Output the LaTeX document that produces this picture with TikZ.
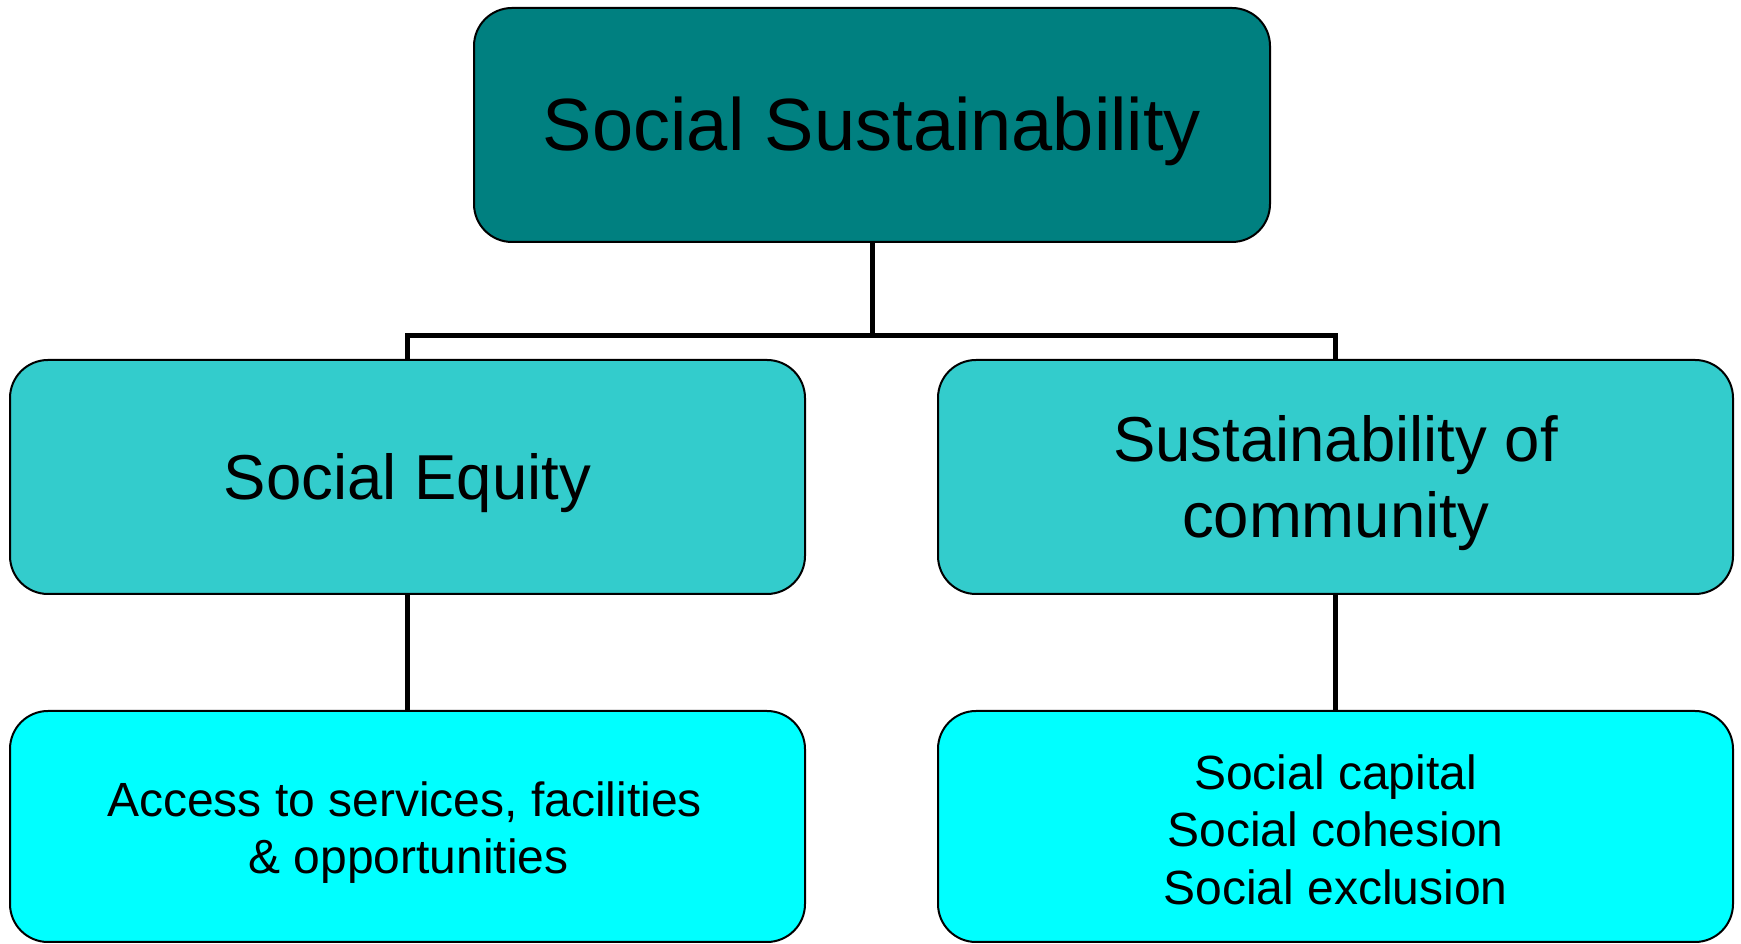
\documentclass[tikz,border=0pt]{standalone}
\usepackage{fontspec}
\setmainfont{Liberation Sans}
\definecolor{topteal}{HTML}{008080}
\definecolor{midteal}{HTML}{33CCCC}
\definecolor{botcyan}{HTML}{00FFFF}
\begin{document}
\begin{tikzpicture}[x=1pt,y=1pt,
  box/.style={draw=black, line width=2pt, rounded corners=38pt, inner sep=0pt},
  topbox/.style={box, fill=topteal, minimum width=796pt, minimum height=234pt},
  midbox/.style={box, fill=midteal, minimum width=795pt, minimum height=234pt},
  botbox/.style={box, fill=botcyan, minimum width=795pt, minimum height=231pt},
  lbl/.style={inner sep=0pt, align=center, text=black, yshift=-6pt},
  toptxt/.style={lbl, font=\fontsize{74}{89}\selectfont},
  midtxt/.style={lbl, font=\fontsize{63.5}{76.2}\selectfont},
  bottxt/.style={lbl, font=\fontsize{48}{57.6}\selectfont},
  conn/.style={draw=black, line width=5pt}]
\useasboundingbox (0,0) rectangle (1741,944);
\node[topbox] (top) at (872,819) {};
\node[midbox] (midL) at (407.5,467) {};
\node[midbox] (midR) at (1335.5,467) {};
\node[botbox] (botL) at (407.5,117.5) {};
\node[botbox] (botR) at (1335.5,117.5) {};
\node[toptxt] (topT) at (top.center) {Social Sustainability};
\node[midtxt] (midLT) at (midL.center) {Social Equity};
\node[midtxt] (midRT) at (midR.center) {Sustainability of\\community};
\node[bottxt, xshift=-3pt] (botLT) at (botL.center) {Access to services, facilities\\\hspace*{8pt}\& opportunities};
\node[bottxt, yshift=3pt] (botRT) at (botR.center) {Social capital\\Social cohesion\\Social exclusion};
\coordinate (j) at (872,608);
\draw[conn] (top.south) -- (j);
\draw[conn] (midL.north) |- (j) -| (midR.north);
\draw[conn] (midL.south) -- (botL.north);
\draw[conn] (midR.south) -- (botR.north);
\end{tikzpicture}
\end{document}
